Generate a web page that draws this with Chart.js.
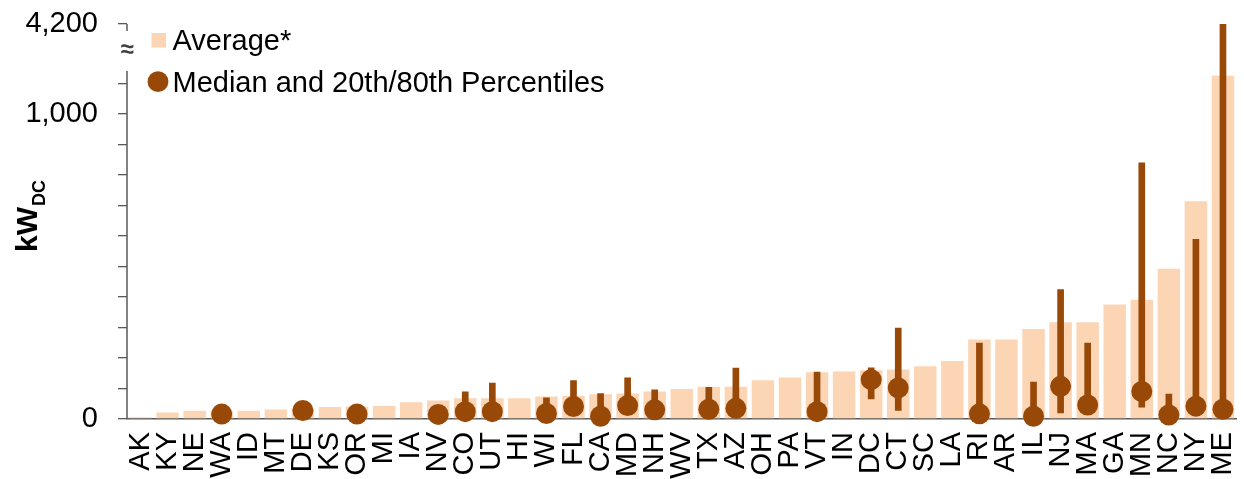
<!DOCTYPE html>
<html><head><meta charset="utf-8">
<script src="https://cdn.jsdelivr.net/npm/chart.js@4.4.1/dist/chart.umd.min.js"></script>
<style>html,body{margin:0;padding:0;overflow:hidden;background:#fff}canvas{display:block}</style>
</head><body>
<canvas id="c" width="1247" height="479"></canvas>
<script>
const states = ['AK','KY','NE','WA','ID','MT','DE','KS','OR','MI','IA','NV','CO','UT','HI','WI','FL','CA','MD','NH','WV','TX','AZ','OH','PA','VT','IN','DC','CT','SC','LA','RI','AR','IL','NJ','MA','GA','MN','NC','NY','ME'];
const average = [6,21,27,27,27,31,35,39,41,43,55,61,68,68,68,74,75,81,84,90,98,106,106,127,136,153,156,160,162,173,190,261,261,295,317,317,375,391,493,714,1125];
const median  = [null,null,null,16,null,null,28,null,16,null,null,15,24,24,null,18,41,9,44,30,null,32,35,null,null,24,null,129,102,null,null,17,null,9,107,46,null,90,13,42,32];
const p20     = [null,null,null,6,null,null,14,null,6,null,null,5,8,8,null,5,15,2,15,10,null,12,12,null,null,8,null,66,28,null,null,5,null,2,20,15,null,39,3,12,10];
const p80     = [null,null,null,32,null,null,48,null,32,null,null,30,89,118,null,69,126,83,135,96,null,104,167,null,null,154,null,168,298,null,null,249,null,121,424,249,null,840,82,589,4200];
const yTickValues = [0,100,200,300,400,500,600,700,800,900,1000,1100,1295];
const yTickLabels = ['0','','','','','','','','','','1,000','','4,200'];
const legendLabels = ['Average*','Median and 20th/80th Percentiles'];
const yTitleMain = 'kW', yTitleSub = 'DC';

const PEACH = '#FCD5B5', BROWN = '#984807', AXIS = '#595959';
const FONT = "'Liberation Sans', Arial, sans-serif";

const whisker = p20.map((lo, i) => (lo == null || p80[i] == null) ? null : [lo, p80[i]]);

const decor = {
  id: 'decor',
  afterDraw(chart) {
    const ctx = chart.ctx, a = chart.chartArea;
    ctx.save();
    // broken y axis line
    ctx.strokeStyle = AXIS; ctx.lineWidth = 1.5;
    ctx.beginPath();
    ctx.moveTo(a.left, a.top); ctx.lineTo(a.left, a.top + 7);
    ctx.moveTo(a.left, a.top + 47); ctx.lineTo(a.left, a.bottom);
    ctx.stroke();
    ctx.fillStyle = '#404040';
    ctx.font = 'bold 24px ' + FONT;
    ctx.textAlign = 'center'; ctx.textBaseline = 'middle';
    ctx.fillText('\u2248', a.left, a.top + 26);
    // legend
    ctx.fillStyle = PEACH;
    ctx.fillRect(151.5, 33, 14.5, 14.5);
    ctx.fillStyle = BROWN;
    ctx.beginPath(); ctx.arc(158, 81.7, 10.4, 0, Math.PI * 2); ctx.fill();
    ctx.fillStyle = '#000';
    ctx.font = '29px ' + FONT;
    ctx.textAlign = 'left'; ctx.textBaseline = 'alphabetic';
    ctx.fillText(legendLabels[0], 172.5, 50);
    ctx.fillText(legendLabels[1], 172.5, 91.7);
    // y title
    ctx.translate(37, 252);
    ctx.rotate(-Math.PI / 2);
    ctx.font = 'bold 30px ' + FONT;
    ctx.fillText(yTitleMain, 0, 0);
    const w = ctx.measureText(yTitleMain).width;
    ctx.font = 'bold 18px ' + FONT;
    ctx.fillText(yTitleSub, w + 1, 8);
    ctx.restore();
  }
};

new Chart(document.getElementById('c'), {
  type: 'bar',
  data: {
    labels: states,
    datasets: [
      { type: 'line', label: legendLabels[1], data: median, showLine: false,
        pointRadius: 10.5, pointHoverRadius: 10.5, pointBackgroundColor: BROWN,
        pointBorderWidth: 0, borderColor: BROWN, clip: false, order: 0 },
      { type: 'bar', label: 'whisker', data: whisker, backgroundColor: BROWN,
        barThickness: 6, grouped: false, clip: 0, order: 1, borderWidth: 0 },
      { type: 'bar', label: legendLabels[0], data: average, backgroundColor: PEACH,
        barPercentage: 0.83, categoryPercentage: 1, grouped: false, order: 2, borderWidth: 0 }
    ]
  },
  options: {
    responsive: false,
    animation: false,
    devicePixelRatio: 1,
    events: [],
    layout: { padding: { top: 24, left: 0, right: 0, bottom: 0 } },
    plugins: { legend: { display: false }, tooltip: { enabled: false } },
    scales: {
      x: {
        offset: true,
        grid: { display: false, drawTicks: false },
        border: { display: true, color: AXIS, width: 1.5 },
        ticks: { autoSkip: false, minRotation: 90, maxRotation: 90, padding: 13,
          color: '#000', font: { family: FONT, size: 29 } },
        afterFit(s) { s.height = 60; s.paddingLeft = 0; s.paddingRight = 0; }
      },
      y: {
        min: 0, max: 1295,
        afterBuildTicks(s) { s.ticks = yTickValues.map(v => ({ value: v })); },
        grid: { drawOnChartArea: false, drawTicks: true, tickLength: 9, color: AXIS, lineWidth: 1.3 },
        border: { display: false },
        ticks: { autoSkip: false, padding: 20, color: '#000', font: { family: FONT, size: 29 },
          callback: (v, i) => yTickLabels[i] },
        afterFit(s) { s.width = 127; s.paddingTop = 0; s.paddingBottom = 0; }
      }
    }
  },
  plugins: [decor]
});
</script>
</body></html>
